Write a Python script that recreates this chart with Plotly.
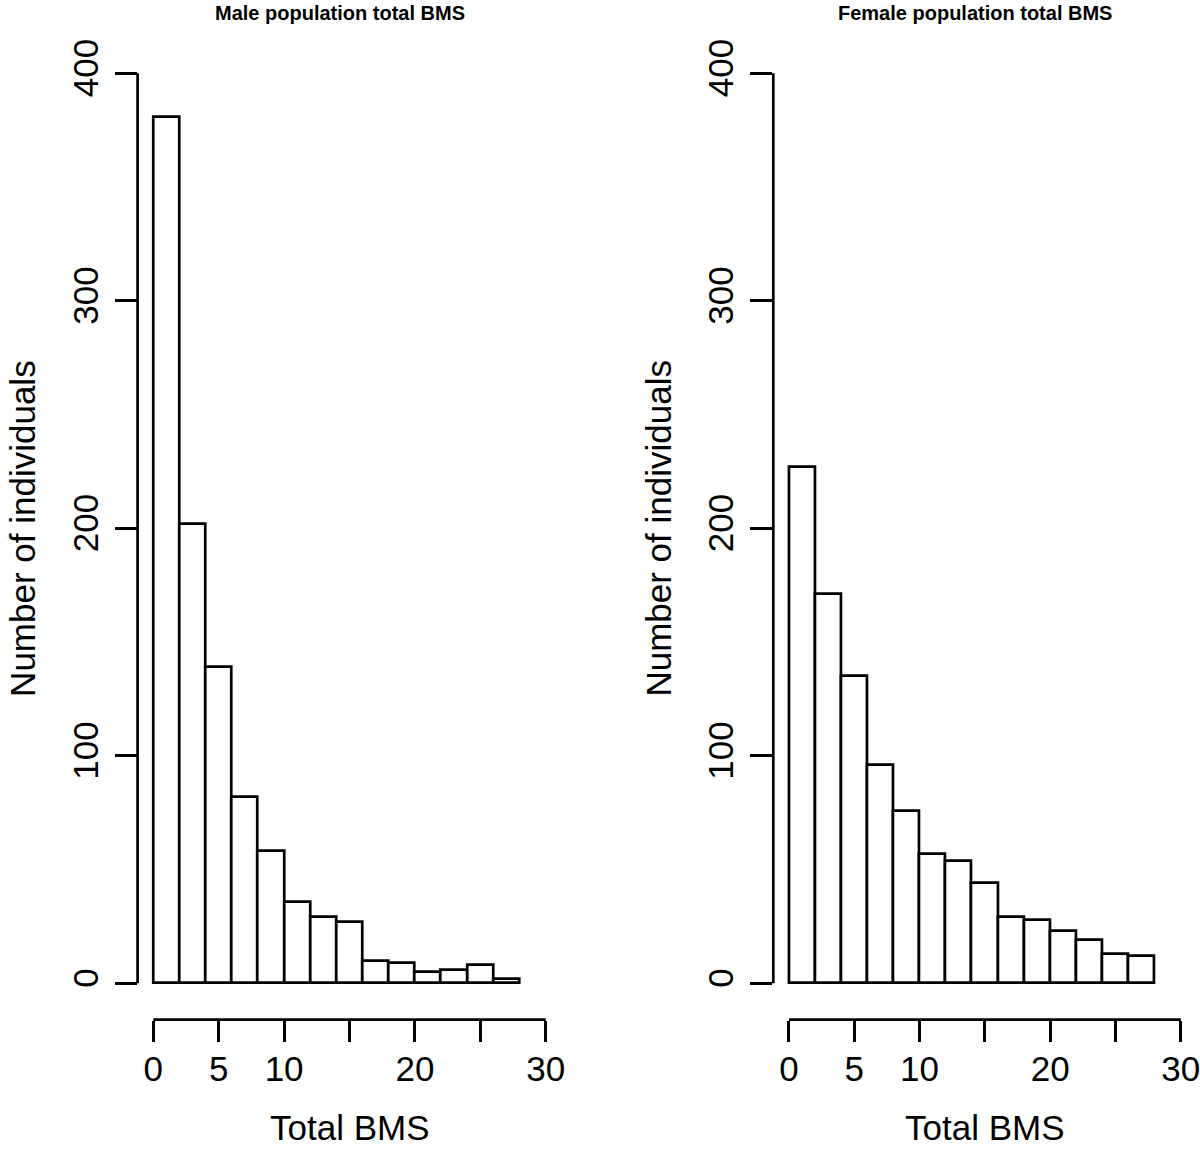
import plotly.graph_objects as go

# ---- data ----
bin_edges = [0, 2, 4, 6, 8, 10, 12, 14, 16, 18, 20, 22, 24, 26, 28]
male_counts = [381, 202, 139, 82, 58, 36, 29, 27, 10, 9, 5, 6, 8, 2]
female_counts = [227, 171, 135, 96, 76, 57, 54, 44, 29, 28, 23, 19, 13, 12]
x_ticks = [0, 5, 10, 15, 20, 25, 30]
x_tick_labels = ["0", "5", "10", "", "20", "", "30"]
y_ticks = [0, 100, 200, 300, 400]
y_tick_labels = ["0", "100", "200", "300", "400"]
panel_titles = ["Male population total BMS", "Female population total BMS"]
x_title = "Total BMS"
y_title = "Number of individuals"

W, H = 1200, 1149
FONT = "Liberation Sans, Arial, Helvetica, sans-serif"
TITLE_FONT = "Liberation Sans Narrow, Arial Narrow, Liberation Sans, Arial, sans-serif"
LW = 2.7

centers = [(a + b) / 2 for a, b in zip(bin_edges[:-1], bin_edges[1:])]
widths = [b - a for a, b in zip(bin_edges[:-1], bin_edges[1:])]

# R-style plot regions (pixel positions from the reference)
x_domains = [[137.6 / W, 561.4 / W], [773.3 / W, 1196.4 / W]]
y_domain = [(H - 1019.7) / H, (H - 36.9) / H]

# R's 4% axis extension
xr = [min(x_ticks) - 0.04 * (max(x_ticks) - min(x_ticks)),
      max(x_ticks) + 0.04 * (max(x_ticks) - min(x_ticks))]
yr = [min(y_ticks) - 0.04 * (max(y_ticks) - min(y_ticks)),
      max(y_ticks) + 0.04 * (max(y_ticks) - min(y_ticks))]

fig = go.Figure()
for i, counts in enumerate([male_counts, female_counts]):
    sfx = "" if i == 0 else "2"
    fig.add_trace(go.Bar(
        x=centers, y=counts, width=widths,
        marker=dict(color="white", line=dict(color="black", width=LW)),
        xaxis="x" + sfx, yaxis="y" + sfx, showlegend=False,
        hoverinfo="x+y",
    ))

axis_common = dict(showgrid=False, zeroline=False, showline=False,
                   ticks="outside", tickcolor="black", tickwidth=LW,
                   tickfont=dict(family=FONT, size=35, color="black"),
                   automargin=False, fixedrange=True, ticklabeloverflow="allow")

layout = dict(width=W, height=H, margin=dict(l=0, r=0, t=0, b=0),
              paper_bgcolor="white", plot_bgcolor="white",
              bargap=0, showlegend=False)

shapes = []
annotations = []
for i in range(2):
    sfx = "" if i == 0 else "2"
    layout["xaxis" + sfx] = dict(axis_common, domain=x_domains[i], range=xr,
                                 tickmode="array", tickvals=x_ticks,
                                 ticktext=x_tick_labels, ticklen=21,
                                 ticklabelstandoff=-3,
                                 anchor="y" + sfx)
    layout["yaxis" + sfx] = dict(axis_common, domain=y_domain, range=yr,
                                 tickmode="array", tickvals=y_ticks,
                                 ticktext=y_tick_labels, ticklen=22,
                                 tickangle=-90, ticklabelstandoff=3,
                                 anchor="x" + sfx)
    # R-style axis lines spanning only the tick range
    shapes.append(dict(type="line", xref="x" + sfx, yref="y" + sfx + " domain",
                       x0=min(x_ticks), x1=max(x_ticks), y0=0, y1=0,
                       line=dict(color="black", width=LW)))
    shapes.append(dict(type="line", xref="x" + sfx + " domain", yref="y" + sfx,
                       x0=0, x1=0, y0=min(y_ticks), y1=max(y_ticks),
                       line=dict(color="black", width=LW)))
    xc = (x_domains[i][0] + x_domains[i][1]) / 2
    annotations.append(dict(text=panel_titles[i], xref="paper", yref="paper",
                            x=xc - 10 / W, y=1.0, xanchor="center", yanchor="top",
                            showarrow=False,
                            font=dict(family=TITLE_FONT, size=20, color="black",
                                      weight="bold")))
    annotations.append(dict(text=x_title, xref="paper", yref="paper",
                            x=xc, y=0.0, xanchor="center", yanchor="bottom",
                            showarrow=False,
                            font=dict(family=FONT, size=35, color="black")))
    annotations.append(dict(text=y_title, xref="paper", yref="paper",
                            x=(x_domains[i][0] * W - 115) / W,
                            y=(y_domain[0] + y_domain[1]) / 2,
                            xanchor="center", yanchor="middle", textangle=-90,
                            showarrow=False,
                            font=dict(family=FONT, size=35, color="black")))

layout["shapes"] = shapes
layout["annotations"] = annotations
fig.update_layout(**layout)
fig.write_html("out.html",
               config={"displayModeBar": False},
               post_script="document.body.style.margin='0';document.body.style.padding='0';")
